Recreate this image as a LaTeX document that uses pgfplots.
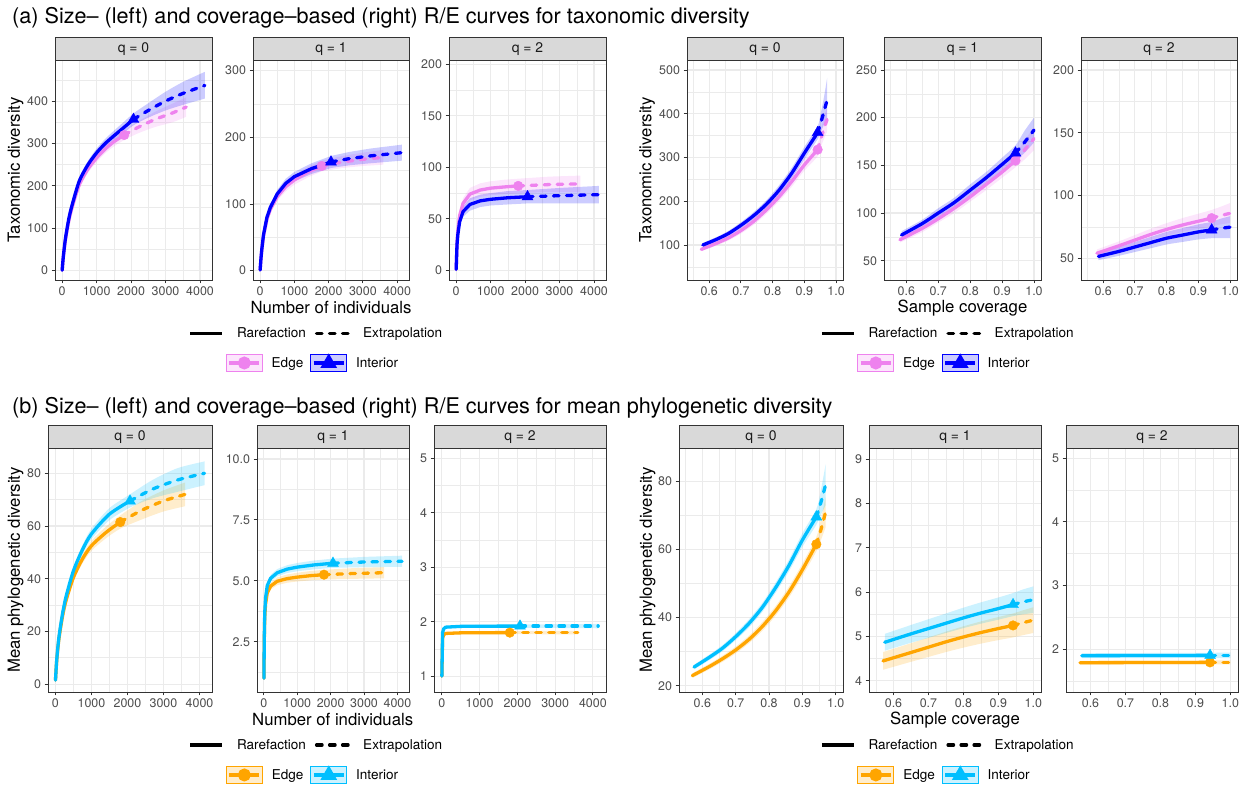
\documentclass[border=0pt]{standalone}
\usepackage{fontspec}
\setmainfont{TeX Gyre Heros}
\usepackage{pgfplots}
\pgfplotsset{compat=1.18}
\usepackage{pgfplotstable}
\usepgfplotslibrary{fillbetween}

\definecolor{grey10}{HTML}{1A1A1A}
\definecolor{grey20}{HTML}{333333}
\definecolor{grey30}{HTML}{4D4D4D}
\definecolor{grey92}{HTML}{EBEBEB}
\definecolor{grey85}{HTML}{D9D9D9}
\definecolor{edgeA}{HTML}{EE82EE}
\definecolor{intA}{HTML}{0000FF}
\definecolor{edgeB}{HTML}{FFA500}
\definecolor{intB}{HTML}{00BFFF}

\newcommand\tickfont{\fontsize{12.5}{14}\selectfont}
\newcommand\stripfont{\fontsize{14}{16}\selectfont}
\newcommand\axfont{\fontsize{16.8}{19}\selectfont}
\newcommand\legfont{\fontsize{13.6}{15}\selectfont}
\newcommand\titfont{\fontsize{21.7}{24}\selectfont}

% ---------------- data: x y lo hi ----------------
% (a) size-based
\pgfplotstableread{
x y lo hi
1 1 1 1
25 24 22 26
50 43 40 46
100 75 71 79
200 120 114 126
300 152 145 159
500 203 195 211
750 240 231 249
1000 266 256 276
1250 287 277 297
1500 304 293 315
1800 320 308 332
2200 338 324 352
2700 357 339 375
3200 372 350 394
3600 386 363 409
}\aAe
\pgfplotstableread{
x y lo hi
1 1 1 1
25 25 23 27
50 45 42 48
100 78 74 82
200 125 119 131
300 158 151 165
500 212 204 220
750 250 241 259
1000 278 268 288
1250 300 289 311
1500 318 306 330
1750 335 322 348
2070 357 343 371
2500 378 361 395
3000 400 378 422
3500 418 391 445
4140 437 406 469
}\aAi
\pgfplotstableread{
x y lo hi
1 1 1 1
25 18 17 19
50 31 29 33
100 52 49 55
200 77 73 81
300 92 87 97
500 111 105 117
750 126 119 133
1000 136 129 143
1400 148 140 156
1800 157 149 165
2400 163 154 172
3000 167 157 177
3600 170 159 181
}\aBe
\pgfplotstableread{
x y lo hi
1 1 1 1
25 18 17 19
50 32 30 34
100 54 51 57
200 80 76 84
300 95 90 100
500 115 109 121
750 131 124 138
1000 141 134 148
1500 153 145 161
2070 163 154 172
2600 168 158 178
3200 172 161 183
4140 177 165 189
}\aBi
\pgfplotstableread{
x y lo hi
1 1 1 1
25 27 25 29
50 39 36 42
100 53 49 57
200 65 60 70
400 74 68 80
700 78 71.5 84.5
1000 79.8 73 86.5
1400 81 74 88
1800 82 75 89
2700 83.3 76 91
3600 84 76 92
}\aCe
\pgfplotstableread{
x y lo hi
1 1 1 1
25 25 23 27
50 35 32 38
100 47 43 51
200 57 52 62
400 64 58 70
700 67.5 61.5 73.5
1000 69 63 75
1500 70.5 64 77
2070 71.5 65 78
3000 72.5 65 80
4140 73.5 65 82
}\aCi
% (a) coverage-based
\pgfplotstableread{
x y lo hi
0.575 90 86 94
0.62 103 98 108
0.66 116 110 122
0.70 133 126 140
0.74 154 146 162
0.78 180 171 189
0.82 210 200 220
0.86 245 233 257
0.90 283 270 296
0.942 318 303 333
0.955 350 330 372
0.972 388 360 418
}\aDe
\pgfplotstableread{
x y lo hi
0.58 100 95 105
0.62 112 107 117
0.66 126 120 132
0.70 145 138 152
0.74 167 159 175
0.78 193 184 202
0.82 225 214 236
0.86 264 252 276
0.90 310 296 324
0.942 357 342 372
0.95 375 355 396
0.96 400 372 430
0.972 432 390 482
}\aDi
\pgfplotstableread{
x y lo hi
0.58 72 69 75
0.65 84 80 88
0.70 94 90 98
0.75 105 100 110
0.80 117 112 122
0.85 130 124 136
0.90 143 137 149
0.942 155 148 162
0.97 166 156 176
1.0 178 166 190
}\aEe
\pgfplotstableread{
x y lo hi
0.585 77 73 81
0.65 89 85 93
0.70 100 95 105
0.75 111 106 116
0.80 124 118 130
0.85 137 131 143
0.90 151 144 158
0.942 163 155 171
0.97 174 163 186
1.0 187 174 200
}\aEi
\pgfplotstableread{
x y lo hi
0.58 54 51 57
0.65 60 56.5 63.5
0.70 64.5 60.5 68.5
0.75 69 64.5 73.5
0.80 73 68 78
0.85 76.5 71 82
0.90 79.5 73.5 85.5
0.942 82 75.5 88.5
0.97 84 77 91
1.0 85.8 78 94
}\aFe
\pgfplotstableread{
x y lo hi
0.585 51.5 48.5 54.5
0.65 55.5 52 59
0.70 59 55 63
0.75 62.5 58 67
0.80 66 61 71
0.85 68.5 63 74
0.90 71 65 77
0.942 72.6 66 79
0.97 73.8 66 81.5
1.0 74.8 66 83.5
}\aFi
% (b) size-based
\pgfplotstableread{
x y lo hi
1 1.5 1.5 1.5
25 7 6.5 7.5
50 11.2 10.6 11.8
100 17.5 16.7 18.3
200 26 25 27
300 32 30.8 33.2
500 40.5 39 42
750 47.5 45.8 49.2
1000 52.5 50.6 54.4
1400 57.5 55.3 59.7
1800 61.5 59 64
2400 66 62.5 69.5
3000 69.5 65.5 73.5
3600 72 67.5 76.5
}\bAe
\pgfplotstableread{
x y lo hi
1 1.5 1.5 1.5
25 7.2 6.7 7.7
50 11.6 11 12.2
100 18.2 17.4 19
200 27 26 28
300 33.5 32.3 34.7
500 43 41.5 44.5
750 51 49.3 52.7
1000 57 55 59
1500 64.5 62.2 66.8
2070 69.5 67 72
2700 74 70.5 77.5
3400 77.5 73 82
4140 80 75.5 84.5
}\bAi
\pgfplotstableread{
x y lo hi
1 1 1 1
10 2.5 2.45 2.55
25 3.5 3.42 3.58
50 4.05 3.95 4.15
100 4.5 4.38 4.62
200 4.78 4.64 4.92
400 4.98 4.82 5.14
700 5.09 4.92 5.26
1000 5.15 4.97 5.33
1400 5.21 5.02 5.4
1800 5.25 5.05 5.45
2700 5.3 5.08 5.52
3600 5.33 5.1 5.56
}\bBe
\pgfplotstableread{
x y lo hi
1 1 1 1
10 2.6 2.55 2.65
25 3.7 3.62 3.78
50 4.3 4.2 4.4
100 4.8 4.68 4.92
200 5.1 4.96 5.24
400 5.33 5.18 5.48
700 5.48 5.32 5.64
1000 5.56 5.39 5.73
1500 5.65 5.47 5.83
2070 5.72 5.53 5.91
3000 5.77 5.56 5.98
4140 5.8 5.57 6.03
}\bBi
\pgfplotstableread{
x y lo hi
1 1 1 1
20 1.7 1.69 1.71
50 1.76 1.745 1.775
100 1.785 1.765 1.805
500 1.796 1.77 1.822
1000 1.799 1.772 1.826
1800 1.8 1.772 1.828
2700 1.8 1.77 1.83
3600 1.8 1.768 1.832
}\bCe
\pgfplotstableread{
x y lo hi
1 1 1 1
20 1.8 1.79 1.81
50 1.87 1.855 1.885
100 1.9 1.88 1.92
500 1.915 1.89 1.94
1000 1.918 1.89 1.946
2070 1.92 1.89 1.95
3000 1.92 1.885 1.955
4140 1.92 1.88 1.96
}\bCi
% (b) coverage-based
\pgfplotstableread{
x y lo hi
0.57 23 22.3 23.7
0.62 25.6 24.8 26.4
0.66 27.9 27 28.8
0.70 30.5 29.5 31.5
0.74 33.6 32.5 34.7
0.78 37.4 36.1 38.7
0.82 42 40.6 43.4
0.86 47.5 45.9 49.1
0.90 54 52.2 55.8
0.942 61.5 59.4 63.6
0.955 65.5 62.5 68.5
0.97 71 66.5 75.5
}\bDe
\pgfplotstableread{
x y lo hi
0.575 25.5 24.8 26.2
0.62 28.3 27.5 29.1
0.66 31 30.1 31.9
0.70 34.4 33.4 35.4
0.74 38.3 37.1 39.5
0.78 43 41.7 44.3
0.82 48.8 47.3 50.3
0.86 55.3 53.6 57
0.90 62.7 60.7 64.7
0.942 69.5 67.2 71.8
0.955 73.5 70 77
0.97 79 73 85
}\bDi
\pgfplotstableread{
x y lo hi
0.57 4.45 4.25 4.65
0.65 4.64 4.43 4.85
0.70 4.76 4.54 4.98
0.75 4.88 4.65 5.11
0.80 4.99 4.75 5.23
0.85 5.09 4.84 5.34
0.90 5.18 4.92 5.44
0.942 5.25 4.98 5.52
0.97 5.31 5.03 5.59
1.0 5.37 5.08 5.66
}\bEe
\pgfplotstableread{
x y lo hi
0.575 4.87 4.68 5.06
0.65 5.06 4.86 5.26
0.70 5.18 4.97 5.39
0.75 5.3 5.08 5.52
0.80 5.42 5.19 5.65
0.85 5.53 5.29 5.77
0.90 5.63 5.38 5.88
0.942 5.72 5.46 5.98
0.97 5.78 5.5 6.06
1.0 5.83 5.53 6.13
}\bEi
\pgfplotstableread{
x y lo hi
0.57 1.79 1.76 1.82
0.75 1.792 1.763 1.821
0.942 1.795 1.765 1.825
1.0 1.795 1.762 1.828
}\bFe
\pgfplotstableread{
x y lo hi
0.575 1.9 1.86 1.94
0.75 1.902 1.862 1.942
0.942 1.905 1.865 1.945
1.0 1.905 1.86 1.95
}\bFi

\pgfplotsset{
 curvestyle/.style={},
 circmark/.style={mark=*, mark size=4.8bp},
 trimark/.style={mark=triangle*, mark size=6.3bp},
 panel/.style={
  scale only axis, anchor=south west,
  axis line style={draw=grey20, line width=0.9bp},
  tick pos=left, tick align=outside,
  major tick length=3.5bp, minor tick length=0pt,
  tick style={draw=grey20, line width=0.9bp},
  grid=both,
  major grid style={draw=grey92, line width=1.1bp},
  minor grid style={draw=grey92, line width=0.55bp},
  ticklabel style={font=\tickfont, text=grey30},
  /pgf/number format/assume math mode=true,
 },
 smoothed/.style={curvestyle/.style={smooth, tension=0.45}},
 sizex/.style={xmin=-207, xmax=4347, xtick={0,1000,2000,3000,4000},
  xticklabels={0,1000,2000,3000,4000}, minor xtick={500,1500,2500,3500}},
 covx/.style={xmin=0.53, xmax=1.022, xtick={0.6,0.7,0.8,0.9,1.0},
  xticklabels={0.6,0.7,0.8,0.9,1.0}, minor xtick={0.55,0.65,0.75,0.85,0.95}, smoothed},
 strip/.style={extra description/.append code={
   \draw[draw=grey20, fill=grey85, line width=0.9bp] (axis description cs:0,1) rectangle ([yshift=22.5bp]axis description cs:1,1);
   \node[font=\stripfont, text=grey10] at ([yshift=11.25bp]axis description cs:0.5,1) {#1};}},
 solidkey/.style={legend image code/.code={\draw[##1] (0bp,0bp) -- (32bp,0bp);}},
 boxkey/.style={legend image code/.code={
   \draw[draw=#1, fill=#1!20, line width=0.8bp, solid] (0bp,-8.5bp) rectangle (36bp,8.5bp);
   \draw[##1, mark repeat=2, mark phase=2] plot coordinates {(3bp,0bp) (18bp,0bp) (33bp,0bp)};}},
 linelegend/.style 2 args={legend style={at={(#1,#2)}, anchor=center, draw=none, fill=none,
   font=\legfont, legend columns=2, cells={anchor=west}, nodes={inner sep=0pt},
   /tikz/every odd column/.append style={column sep=13bp},
   /tikz/every even column/.append style={column sep=9bp}}},
 collegend/.style 2 args={legend style={at={(#1,#2)}, anchor=center, draw=none, fill=none,
   font=\legfont, legend columns=2, cells={anchor=west}, nodes={inner sep=0pt},
   /tikz/every odd column/.append style={column sep=9bp},
   /tikz/every even column/.append style={column sep=7bp}}},
 dashline/.style={line cap=round, dash pattern=on 5.5bp off 7.5bp},
}

% #1 colour, #2 table, #3 dashed from, #4 solid to, #5 ref x, #6 ref y, #7 mark style
\newcommand\curve[7]{%
 \addplot[forget plot, #1, curvestyle, line width=3.3bp, line cap=round, line join=round, restrict x to domain=-100000:#4] table[x=x,y=y]{#2};
 \addplot[forget plot, #1, curvestyle, line width=3.3bp, dashline, restrict x to domain=#3:100000] table[x=x,y=y]{#2};
 \addplot[forget plot, #1, only marks, #7] coordinates {(#5,#6)};
}
% #1 id, #2 colour, #3 table
\newcommand\ribbon[3]{%
 \addplot[forget plot, curvestyle, draw=none, name path=#1u] table[x=x,y=hi]{#3};
 \addplot[forget plot, curvestyle, draw=none, name path=#1l] table[x=x,y=lo]{#3};
 \addplot[forget plot, fill=#2, fill opacity=0.2, draw=none] fill between[of=#1u and #1l];
}

\begin{document}
\begin{tikzpicture}[x=1bp,y=1bp]
\path (0,0) rectangle (1244,784);

% ---------------- row (a) ----------------
\node[anchor=west, inner sep=0pt, font=\titfont] at (12,766) {(a) Size-- (left) and coverage--based (right) R/E curves for taxonomic diversity};

\begin{axis}[panel, sizex, smoothed, at={(55bp,504bp)}, width=157bp, height=220bp,
  ymin=-22, ymax=497, ytick={0,100,200,300,400}, minor ytick={50,150,250,350,450}, strip={q = 0}]
 \curve{edgeA}{\aAe}{1795}{1805}{1800}{320}{circmark}
 \curve{intA}{\aAi}{2065}{2075}{2070}{357}{trimark}
 \ribbon{e}{edgeA}{\aAe}
 \ribbon{i}{intA}{\aAi}
\end{axis}
\begin{axis}[panel, sizex, at={(253bp,504bp)}, width=156bp, height=220bp,
  ymin=-14, ymax=316, ytick={0,100,200,300}, minor ytick={50,150,250}, strip={q = 1},
  linelegend={0.4006}{-0.2423}]
 \addlegendimage{black, line width=3.3bp, solidkey}\addlegendentry{Rarefaction}
 \addlegendimage{black, line width=3.3bp, dashline, solidkey}\addlegendentry{Extrapolation}
 \curve{edgeA}{\aBe}{1795}{1805}{1800}{157}{circmark}
 \curve{intA}{\aBi}{2065}{2075}{2070}{163}{trimark}
 \ribbon{e}{edgeA}{\aBe}
 \ribbon{i}{intA}{\aBi}
\end{axis}
\begin{axis}[panel, sizex, at={(449bp,504bp)}, width=157bp, height=220bp,
  ymin=-9.3, ymax=204.2, ytick={0,50,100,150,200}, minor ytick={25,75,125,175}, strip={q = 2},
  collegend={-0.8726}{-0.3773}]
 \addlegendimage{edgeA, line width=3.3bp, circmark, boxkey=edgeA}\addlegendentry{Edge}
 \addlegendimage{intA, line width=3.3bp, trimark, boxkey=intA}\addlegendentry{Interior}
 \curve{edgeA}{\aCe}{1795}{1805}{1800}{82}{circmark}
 \curve{intA}{\aCi}{2065}{2075}{2070}{71.5}{trimark}
 \ribbon{e}{edgeA}{\aCe}
 \ribbon{i}{intA}{\aCi}
\end{axis}
\begin{axis}[panel, covx, at={(687bp,504bp)}, width=156bp, height=220bp,
  ymin=20, ymax=523, ytick={100,200,300,400,500}, minor ytick={50,150,250,350,450}, strip={q = 0}]
 \curve{edgeA}{\aDe}{0.9415}{0.9425}{0.942}{318}{circmark}
 \curve{intA}{\aDi}{0.9415}{0.9425}{0.942}{357}{trimark}
 \ribbon{e}{edgeA}{\aDe}
 \ribbon{i}{intA}{\aDi}
\end{axis}
\begin{axis}[panel, covx, at={(884bp,504bp)}, width=157bp, height=220bp,
  ymin=29.8, ymax=260.5, ytick={50,100,150,200,250}, minor ytick={75,125,175,225}, strip={q = 1},
  linelegend={0.4013}{-0.2423}]
 \addlegendimage{black, line width=3.3bp, solidkey}\addlegendentry{Rarefaction}
 \addlegendimage{black, line width=3.3bp, dashline, solidkey}\addlegendentry{Extrapolation}
 \curve{edgeA}{\aEe}{0.9415}{0.9425}{0.942}{155}{circmark}
 \curve{intA}{\aEi}{0.9415}{0.9425}{0.942}{163}{trimark}
 \ribbon{e}{edgeA}{\aEe}
 \ribbon{i}{intA}{\aEi}
\end{axis}
\begin{axis}[panel, covx, at={(1081bp,504bp)}, width=156bp, height=220bp,
  ymin=32.7, ymax=208, ytick={50,100,150,200}, minor ytick={75,125,175}, strip={q = 2},
  collegend={-0.8814}{-0.3773}]
 \addlegendimage{edgeA, line width=3.3bp, circmark, boxkey=edgeA}\addlegendentry{Edge}
 \addlegendimage{intA, line width=3.3bp, trimark, boxkey=intA}\addlegendentry{Interior}
 \curve{edgeA}{\aFe}{0.9415}{0.9425}{0.942}{82}{circmark}
 \curve{intA}{\aFi}{0.9415}{0.9425}{0.942}{72.6}{trimark}
 \ribbon{e}{edgeA}{\aFe}
 \ribbon{i}{intA}{\aFi}
\end{axis}

\node[font=\axfont] at (331,476) {Number of individuals};
\node[font=\axfont] at (962.5,476) {Sample coverage};
\node[font=\axfont, rotate=90] at (15.5,614) {Taxonomic diversity};
\node[font=\axfont, rotate=90] at (647,614) {Taxonomic diversity};

% ---------------- row (b) ----------------
\node[anchor=west, inner sep=0pt, font=\titfont] at (12,376) {(b) Size-- (left) and coverage--based (right) R/E curves for mean phylogenetic diversity};

\begin{axis}[panel, sizex, smoothed, at={(48bp,92bp)}, width=164bp, height=244bp,
  ymin=-3, ymax=89.6, ytick={0,20,40,60,80}, minor ytick={10,30,50,70}, strip={q = 0}]
 \curve{edgeB}{\bAe}{1795}{1805}{1800}{61.5}{circmark}
 \curve{intB}{\bAi}{2065}{2075}{2070}{69.5}{trimark}
 \ribbon{e}{edgeB}{\bAe}
 \ribbon{i}{intB}{\bAi}
\end{axis}
\begin{axis}[panel, sizex, at={(257bp,92bp)}, width=152bp, height=244bp,
  ymin=0.435, ymax=10.45, ytick={2.5,5,7.5,10}, yticklabels={2.5,5.0,7.5,10.0},
  minor ytick={1.25,3.75,6.25,8.75}, strip={q = 1},
  linelegend={0.385}{-0.2172}]
 \addlegendimage{black, line width=3.3bp, solidkey}\addlegendentry{Rarefaction}
 \addlegendimage{black, line width=3.3bp, dashline, solidkey}\addlegendentry{Extrapolation}
 \curve{edgeB}{\bBe}{1795}{1805}{1800}{5.25}{circmark}
 \curve{intB}{\bBi}{2065}{2075}{2070}{5.72}{trimark}
 \ribbon{e}{edgeB}{\bBe}
 \ribbon{i}{intB}{\bBi}
\end{axis}
\begin{axis}[panel, sizex, at={(434bp,92bp)}, width=172bp, height=244bp,
  ymin=0.71, ymax=5.19, ytick={1,2,3,4,5}, minor ytick={1.5,2.5,3.5,4.5}, strip={q = 2},
  collegend={-0.709}{-0.340}]
 \addlegendimage{edgeB, line width=3.3bp, circmark, boxkey=edgeB}\addlegendentry{Edge}
 \addlegendimage{intB, line width=3.3bp, trimark, boxkey=intB}\addlegendentry{Interior}
 \curve{edgeB}{\bCe}{1795}{1805}{1800}{1.8}{circmark}
 \curve{intB}{\bCi}{2065}{2075}{2070}{1.92}{trimark}
 \ribbon{e}{edgeB}{\bCe}
 \ribbon{i}{intB}{\bCi}
\end{axis}
\begin{axis}[panel, covx, at={(679bp,92bp)}, width=164bp, height=244bp,
  ymin=18.2, ymax=89.7, ytick={20,40,60,80}, minor ytick={30,50,70}, strip={q = 0}]
 \curve{edgeB}{\bDe}{0.9415}{0.9425}{0.942}{61.5}{circmark}
 \curve{intB}{\bDi}{0.9415}{0.9425}{0.942}{69.5}{trimark}
 \ribbon{e}{edgeB}{\bDe}
 \ribbon{i}{intB}{\bDi}
\end{axis}
\begin{axis}[panel, covx, at={(869bp,92bp)}, width=172bp, height=244bp,
  ymin=3.75, ymax=9.25, ytick={4,5,6,7,8,9}, minor ytick={4.5,5.5,6.5,7.5,8.5}, strip={q = 1},
  linelegend={0.4535}{-0.2172}]
 \addlegendimage{black, line width=3.3bp, solidkey}\addlegendentry{Rarefaction}
 \addlegendimage{black, line width=3.3bp, dashline, solidkey}\addlegendentry{Extrapolation}
 \curve{edgeB}{\bEe}{0.9415}{0.9425}{0.942}{5.25}{circmark}
 \curve{intB}{\bEi}{0.9415}{0.9425}{0.942}{5.72}{trimark}
 \ribbon{e}{edgeB}{\bEe}
 \ribbon{i}{intB}{\bEi}
\end{axis}
\begin{axis}[panel, covx, at={(1066bp,92bp)}, width=172bp, height=244bp,
  ymin=1.33, ymax=5.16, ytick={2,3,4,5}, minor ytick={1.5,2.5,3.5,4.5}, strip={q = 2},
  collegend={-0.712}{-0.340}]
 \addlegendimage{edgeB, line width=3.3bp, circmark, boxkey=edgeB}\addlegendentry{Edge}
 \addlegendimage{intB, line width=3.3bp, trimark, boxkey=intB}\addlegendentry{Interior}
 \curve{edgeB}{\bFe}{0.9415}{0.9425}{0.942}{1.795}{circmark}
 \curve{intB}{\bFi}{0.9415}{0.9425}{0.942}{1.905}{trimark}
 \ribbon{e}{edgeB}{\bFe}
 \ribbon{i}{intB}{\bFi}
\end{axis}

\node[font=\axfont] at (332.7,64) {Number of individuals};
\node[font=\axfont] at (955,64) {Sample coverage};
\node[font=\axfont, rotate=90] at (15.5,214) {Mean phylogenetic diversity};
\node[font=\axfont, rotate=90] at (647.5,214) {Mean phylogenetic diversity};
\end{tikzpicture}
\end{document}
